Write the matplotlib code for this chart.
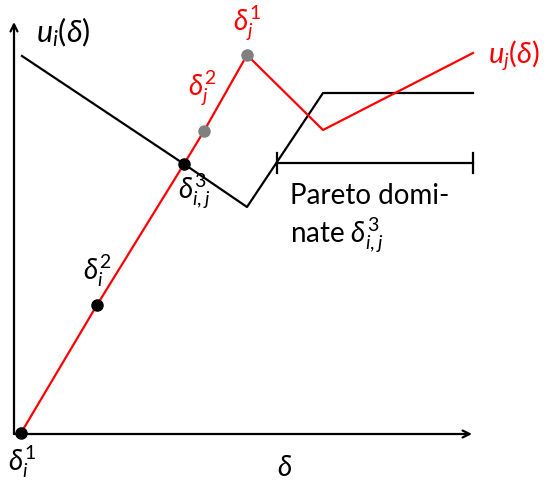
import matplotlib
matplotlib.use('Agg')
import matplotlib.pyplot as plt

# ===== data =====

# utility of player j (red) along delta
u_j_x = [0.0, 1.52, 3.26, 3.66, 4.52, 6.04, 9.04]
u_j_y = [0.0, 2.56, 5.38, 6.04, 7.56, 6.06, 7.60]

# utility of player i (black)
u_i_x = [0.02, 3.26, 4.52, 6.04, 9.04]
u_i_y = [7.54, 5.38, 4.52, 6.80, 6.80]

# marked points
black_pts_x = [0.0, 1.52, 3.26]
black_pts_y = [0.0, 2.56, 5.38]
gray_pts_x = [3.66, 4.52]
gray_pts_y = [6.04, 7.56]

# pareto interval
pareto_x = [5.12, 9.04]
pareto_y = 5.40

# axes extent
x_axis_end = 9.02
y_axis_top = 8.22
y_axis_x = -0.14

# ================

plt.rcParams['font.family'] = ['Lato', 'DejaVu Sans']
plt.rcParams['mathtext.fontset'] = 'custom'
plt.rcParams['mathtext.rm'] = 'Lato'
plt.rcParams['mathtext.it'] = 'Lato:italic'
plt.rcParams['mathtext.bf'] = 'Lato:bold'
plt.rcParams['mathtext.fallback'] = 'cm'
FS = 20

fig = plt.figure(figsize=(5.47, 4.83), dpi=100)
ax = fig.add_axes([0, 0, 1, 1])
ax.set_xlim(-0.42, 10.52)
ax.set_ylim(-1.0, 8.66)
ax.axis('off')

arrow = dict(arrowstyle='->,head_length=0.5,head_width=0.25', lw=1.6, color='black',
             shrinkA=0, shrinkB=0)
ax.annotate('', xy=(x_axis_end, -0.02), xytext=(y_axis_x, -0.02), arrowprops=arrow)
ax.annotate('', xy=(y_axis_x, y_axis_top), xytext=(y_axis_x, -0.02), arrowprops=arrow)

ax.plot(u_i_x, u_i_y, color='black', lw=1.6, zorder=2)
ax.plot(u_j_x, u_j_y, color='red', lw=1.6, zorder=2)

# pareto interval with end ticks
ax.plot(pareto_x, [pareto_y, pareto_y], color='black', lw=1.6)
for px in pareto_x:
    ax.plot([px, px], [pareto_y - 0.2, pareto_y + 0.2], color='black', lw=1.6)

ax.plot(black_pts_x, black_pts_y, 'o', color='black', ms=8, zorder=3)
ax.plot(gray_pts_x, gray_pts_y, 'o', color='#808080', ms=8, zorder=3)

# labels
ax.text(0.3, 8.02, r'$u_i(\delta)$', fontsize=FS + 2, ha='left', va='center')
ax.text(9.34, 7.56, r'$u_j(\delta)$', fontsize=FS + 1, ha='left', va='center', color='red')
ax.text(4.52, 8.2, r'$\delta_j^1$', fontsize=FS, ha='center', va='center', color='red')
ax.text(3.62, 6.9, r'$\delta_j^2$', fontsize=FS, ha='center', va='center', color='red')
ax.text(3.46, 4.84, r'$\delta_{i,j}^3$', fontsize=FS, ha='center', va='center')
ax.text(1.52, 3.24, r'$\delta_i^2$', fontsize=FS, ha='center', va='center')
ax.text(0.02, -0.58, r'$\delta_i^1$', fontsize=FS, ha='center', va='center')
ax.text(5.28, -0.7, r'$\delta$', fontsize=FS, ha='center', va='center')
ax.text(5.38, 5.0, 'Pareto domi-\nnate ' + r'$\delta_{i,j}^3$', fontsize=FS,
        ha='left', va='top', linespacing=1.25)

fig.savefig('out.png', dpi=100)
